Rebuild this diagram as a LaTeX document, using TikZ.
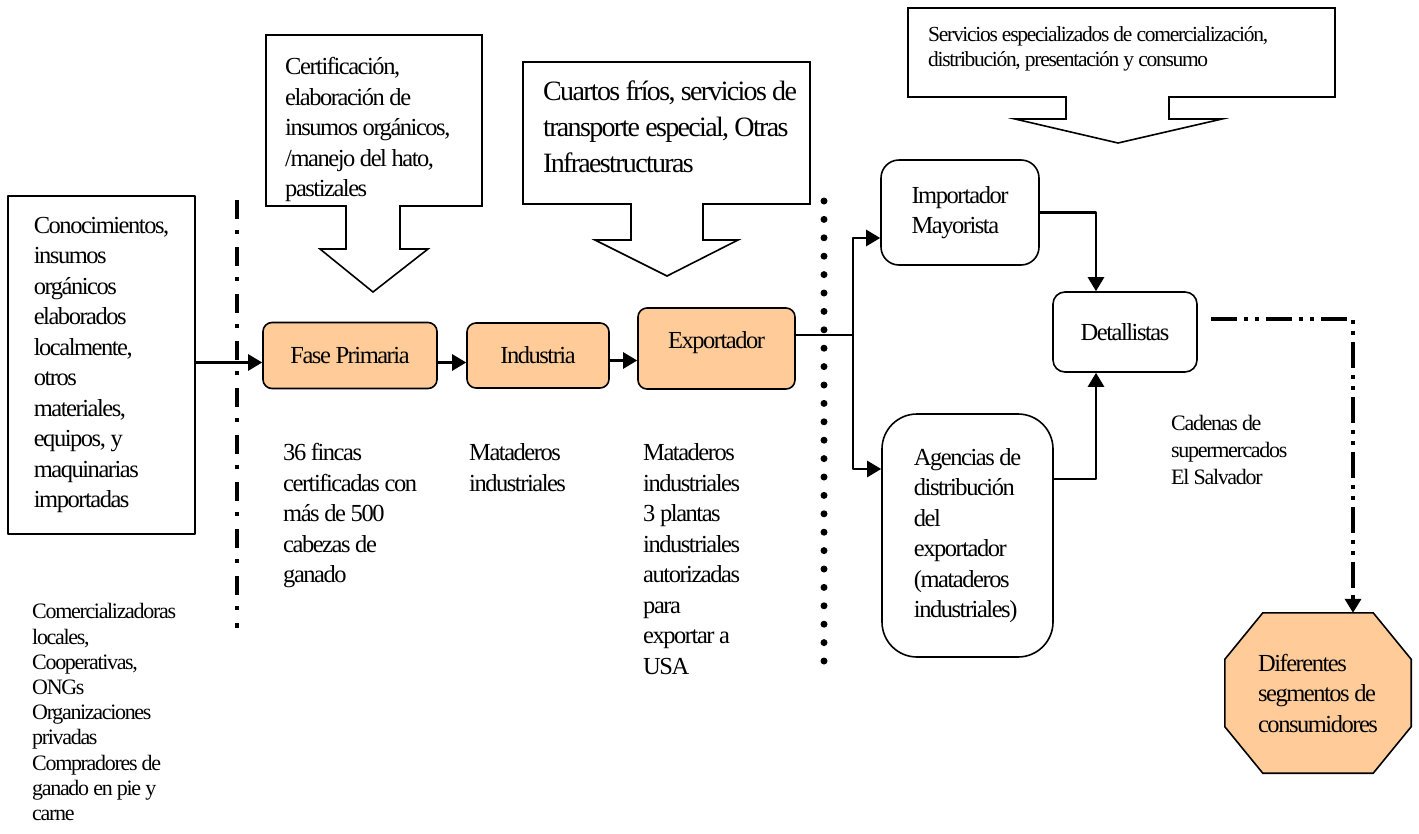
\documentclass[tikz,border=0pt]{standalone}
\usepackage{fontspec}
\setmainfont{Liberation Serif}[LetterSpace=-6]
\usepackage{tikz}
\usetikzlibrary{arrows.meta}
\usetikzlibrary{backgrounds}
\definecolor{durazno}{HTML}{FFCC99}
\tikzset{t/.style={font=\fontsize{24.5}{30.5}\selectfont}}
\tikzset{s/.style={font=\fontsize{22}{25.2}\selectfont}}
\tikzset{g/.style={font=\fontsize{28}{36}\selectfont}}
\tikzset{txt/.style={anchor=north west, inner sep=0pt, align=left}}
\tikzset{caja/.style={draw, line width=1.6pt, align=left}}
\tikzset{fase/.style={draw, line width=1.6pt, fill=durazno, rounded corners=9pt}}
\tikzset{globo/.style={draw, line width=1.6pt, line join=miter}}
\tikzset{flecha/.style={-{Triangle[length=14pt,width=16pt]}, line width=2.6pt}}
\tikzset{linea/.style={line width=2pt}}

\begin{document}
\begin{tikzpicture}[x=1pt,y=-1pt,line join=round]
          \useasboundingbox (0,0) rectangle (1419,833);
          \draw[globo](266,35)--(482,35)--(482,206)--(400,206)--(400,249)--(428,249)--(373,292)--(320,249)--(346,249)--(346,206)--(266,206)--cycle;
          \draw[globo](523,62)--(810,62)--(810,204)--(703,204)--(703,240)--(738,240)--(667,276)--(595,240)--(631,240)--(631,204)--(523,204)--cycle;
          \draw[globo](908,8)--(1335,8)--(1335,97)--(1169,97)--(1169,119)--(1222,119)--(1118,143)--(1015,119)--(1066,119)--(1066,97)--(908,97)--cycle;
          \draw[line width=4.5pt, dash pattern=on 19pt off 11pt on 4pt off 13pt](237,200)--(237,628);
          \draw[line width=7pt, line cap=round, dash pattern=on 0pt off 18.4pt](824,201)--(824,661);
          \begin{scope}[t]
            \node[caja, minimum width=187pt, minimum height=338pt] (C) at (101.5,365) {Conocimientos,\\insumos\\orgánicos\\elaborados\\localmente,\\otros\\materiales,\\equipos, y\\maquinarias\\importadas};
            \node[fase, minimum width=174pt, minimum height=66pt] (F) at (350,355.5) {Fase Primaria};
            \node[fase, minimum width=142pt, minimum height=65pt] (I) at (538,355.5) {Industria};
            \node[fase, minimum width=157pt, minimum height=81pt, text depth=17pt] (E) at (716.5,348.5) {Exportador};
            \node[caja, rounded corners=18pt, minimum width=158pt, minimum height=105pt] (M) at (960,212.5) {Importador\\Mayorista};
            \node[caja, rounded corners=12pt, minimum width=144pt, minimum height=80pt] (D) at (1125,332) {Detallistas};
            \node[caja, rounded corners=35pt, minimum width=171pt, minimum height=243pt] (A) at (967.5,535.5) {Agencias de\\distribución\\del\\exportador\\(mataderos\\industriales)};
            \node[align=left, minimum width=186pt, minimum height=160pt] (S) at (1318,693) {Diferentes\\segmentos de\\consumidores};
            \node[txt] (cert) at (285,53) {\strut Certificación,\\elaboración de\\insumos orgánicos,\\/manejo del hato,\\pastizales};
            \node[txt] (fincas) at (283,439) {\strut 36 fincas\\certificadas con\\más de 500\\cabezas de\\ganado};
            \node[txt] (mat) at (469,439) {\strut Mataderos\\industriales};
            \node[txt] (plantas) at (643,439) {\strut Mataderos\\industriales\\3 plantas\\industriales\\autorizadas\\para\\exportar a\\USA};
          \end{scope}
          \begin{scope}[on background layer]
            \filldraw[line width=1.6pt, fill=durazno]([xshift=38pt]S.north west)--([xshift=-38pt]S.north east)--([yshift=-46.5pt]S.north east)--([yshift=46.5pt]S.south east)--([xshift=-38pt]S.south east)--([xshift=38pt]S.south west)--([yshift=46.5pt]S.south west)--([yshift=-46.5pt]S.north west)--cycle;
          \end{scope}
          \node[txt, g] (cuartos) at (543,75) {\strut Cuartos fríos, servicios de\\transporte especial, Otras\\Infraestructuras};
          \node[txt, s, font=\fontsize{21.5}{25}\selectfont] (serv) at (928,24) {\strut Servicios especializados de comercialización,\\distribución, presentación y consumo};
          \node[txt, s, font=\fontsize{22}{27}\selectfont] (cadenas) at (1171,411) {\strut Cadenas de\\supermercados\\El Salvador};
          \node[txt, s] (comerc) at (32,601) {\strut Comercializadoras\\locales,\\Cooperativas,\\ONGs\\Organizaciones\\privadas\\Compradores de\\ganado en pie y\\carne};
          \coordinate (bif) at (853,335);
          \draw[flecha] ([yshift=-7pt]F.west -| C.east) -- ([yshift=-7pt]F.west);
          \draw[flecha] ([yshift=-7pt]F.east) -- ([yshift=-7pt]F.east -| I.west);
          \draw[flecha] ([yshift=-5pt]I.east) -- ([yshift=-5pt]I.east -| E.west);
          \draw[linea] (E.east |- bif) -- (bif);
          \draw[flecha] (bif) |- ([yshift=-25.5pt]M.west);
          \draw[flecha] (bif) |- ([yshift=66.5pt]A.west);
          \draw[flecha] (M.east) -| ([xshift=-29pt]D.north);
          \draw[flecha] ([yshift=56.5pt]A.east) -| ([xshift=-29pt]D.south);
          \draw[line width=3.5pt, dash pattern=on 26pt off 7pt on 4pt off 7pt on 4pt off 7pt, -{Triangle[length=14pt,width=16pt]}] ([shift={(13pt,13pt)}]D.east) -| ([xshift=35pt]S.north);
\end{tikzpicture}
\end{document}
